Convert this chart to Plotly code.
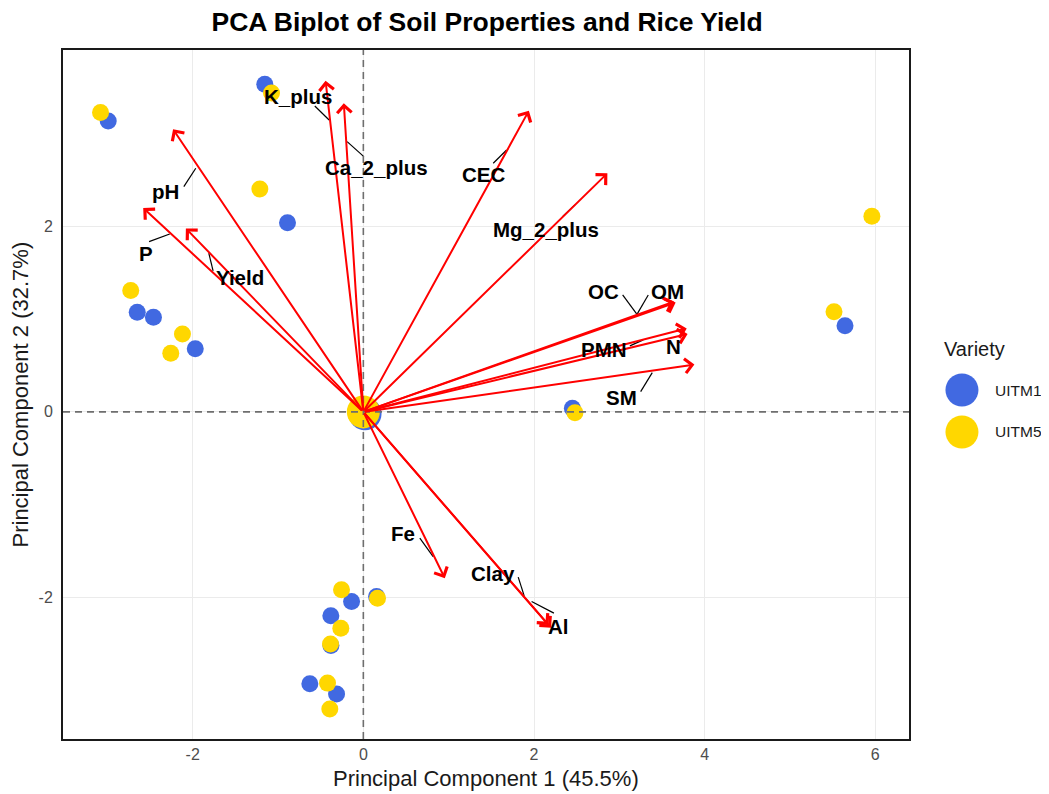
import plotly.graph_objects as go

# ---------------- data ----------------
uitm1_pc1 = [-2.99, -1.155, -0.889, -2.65, -2.46, -1.97, 5.645, 2.45, -0.138, -0.381, -0.38, -0.627, -0.314, 0.155]
uitm1_pc2 = [3.14, 3.535, 2.04, 1.075, 1.02, 0.68, 0.93, 0.04, -2.046, -2.20, -2.52, -2.934, -3.045, -1.992]
uitm5_pc1 = [-3.08, -1.076, -1.213, -2.726, -2.12, -2.257, 5.96, 5.516, 2.48, -0.256, -0.264, -0.385, -0.42, -0.393, 0.166]
uitm5_pc2 = [3.23, 3.44, 2.405, 1.31, 0.84, 0.633, 2.11, 1.08, -0.01, -1.92, -2.335, -2.506, -2.927, -3.207, -2.01]
centroid_pc1 = {"UITM1": 0.02, "UITM5": 0.0}
centroid_pc2 = {"UITM1": -0.02, "UITM5": 0.0}

variables = ["K_plus", "Ca_2_plus", "pH", "P", "Yield", "CEC", "Mg_2_plus",
             "OC", "OM", "PMN", "N", "SM", "Fe", "Clay", "Al"]
loading_pc1 = [-0.443, -0.229, -2.23, -2.58, -2.08, 1.94, 2.86,
               3.64, 3.66, 3.80, 3.79, 3.88, 0.955, 2.17, 2.20]
loading_pc2 = [3.574, 3.33, 3.05, 2.20, 1.98, 3.25, 2.575,
               1.19, 1.18, 0.84, 0.90, 0.51, -1.795, -2.30, -2.33]

# repelled label positions and their leader segments (data units)
label_x = [-0.764, 0.155, -2.315, -2.550, -1.448, 1.404, 2.136,
           2.811, 3.566, 2.819, 3.632, 3.027, 0.467, 1.515, 2.284]
label_y = [3.401, 2.635, 2.377, 1.712, 1.453, 2.557, 1.971,
           1.298, 1.298, 0.676, 0.704, 0.159, -1.316, -1.740, -2.316]
seg_x0 = [-0.569, 0.006, -2.104, -2.511, -1.761, 1.522, 2.335,
          3.039, 3.339, 3.124, None, 3.250, 0.662, 1.815, 2.233]
seg_y0 = [3.301, 2.754, 2.430, 1.837, 1.521, 2.683, 2.107,
          1.262, 1.262, 0.712, None, 0.219, -1.362, -1.783, -2.172]
seg_x1 = [-0.401, -0.190, -1.964, -2.269, -1.811, 1.679, 2.479,
          3.203, 3.210, 3.280, None, 3.386, 0.818, 1.885, 1.972]
seg_y1 = [3.150, 2.916, 2.629, 1.920, 1.712, 2.826, 2.233,
          1.057, 1.057, 0.777, None, 0.424, -1.561, -1.985, -2.046]

x_ticks = [-2, 0, 2, 4, 6]
y_ticks = [-2, 0, 2]

BLUE = "#4169E1"
GOLD = "#FFD700"
FONT = "Liberation Sans, Arial, sans-serif"

fig = go.Figure()

# sample points
fig.add_trace(go.Scatter(x=uitm1_pc1, y=uitm1_pc2, mode="markers", name="UITM1",
                         marker=dict(color=BLUE, size=17, line=dict(width=0)), showlegend=False))
fig.add_trace(go.Scatter(x=uitm5_pc1, y=uitm5_pc2, mode="markers", name="UITM5",
                         marker=dict(color=GOLD, size=17, line=dict(width=0)), showlegend=False))
# centroids
fig.add_trace(go.Scatter(x=[centroid_pc1["UITM1"]], y=[centroid_pc2["UITM1"]], mode="markers",
                         marker=dict(color=BLUE, size=33, line=dict(width=0)), showlegend=False))
fig.add_trace(go.Scatter(x=[centroid_pc1["UITM5"]], y=[centroid_pc2["UITM5"]], mode="markers",
                         marker=dict(color=GOLD, size=33, line=dict(width=0)), showlegend=False))

# leader segments
sx, sy = [], []
for a, b, c, d in zip(seg_x0, seg_y0, seg_x1, seg_y1):
    if a is None:
        continue
    sx += [a, c, None]
    sy += [b, d, None]
fig.add_trace(go.Scatter(x=sx, y=sy, mode="lines", line=dict(color="black", width=1.2),
                         hoverinfo="skip", showlegend=False))

annotations = []
# loading arrows
for v, lx, ly in zip(variables, loading_pc1, loading_pc2):
    annotations.append(dict(x=lx, y=ly, ax=0, ay=0, xref="x", yref="y", axref="x", ayref="y",
                            text="", showarrow=True, arrowhead=4, arrowsize=1.4, arrowwidth=2,
                            arrowcolor="#FF0000", standoff=0, startstandoff=0))
# labels
for v, tx, ty in zip(variables, label_x, label_y):
    annotations.append(dict(x=tx, y=ty, xref="x", yref="y", text=f"<b>{v}</b>", showarrow=False,
                            font=dict(family=FONT, size=20.5, color="black"),
                            xanchor="center", yanchor="middle"))

# axis titles
annotations.append(dict(x=0.5, y=0, xref="paper", yref="paper", yshift=-39, text="Principal Component 1 (45.5%)",
                        showarrow=False, xanchor="center", yanchor="middle",
                        font=dict(family=FONT, size=22, color="#1a1a1a")))
annotations.append(dict(x=0, y=0.5, xref="paper", yref="paper", xshift=-43, text="Principal Component 2 (32.7%)",
                        showarrow=False, xanchor="center", yanchor="middle", textangle=-90,
                        font=dict(family=FONT, size=22, color="#1a1a1a")))

# manual legend (large keys like ggplot)
annotations.append(dict(x=1.039, y=0.566, xref="paper", yref="paper", text="Variety",
                        showarrow=False, xanchor="left", yanchor="middle",
                        font=dict(family=FONT, size=20, color="#1a1a1a")))
legend_items = [("UITM1", BLUE, 0.5065), ("UITM5", GOLD, 0.4456)]
shapes = []
for name, col, yy in legend_items:
    annotations.append(dict(x=1.099, y=yy, xref="paper", yref="paper", text=name, showarrow=False,
                            xanchor="left", yanchor="middle",
                            font=dict(family=FONT, size=15.5, color="#1a1a1a")))
    shapes.append(dict(type="circle", xref="paper", yref="paper", xsizemode="pixel", ysizemode="pixel",
                       xanchor=1.0626, yanchor=yy, x0=-16.5, x1=16.5, y0=-16.5, y1=16.5,
                       fillcolor=col, line=dict(width=0)))

# dashed reference lines
shapes.append(dict(type="line", xref="x", yref="paper", x0=0, x1=0, y0=0, y1=1,
                   line=dict(color="#6e6e6e", width=1.6, dash="7px,5px"), layer="above"))
shapes.append(dict(type="line", xref="paper", yref="y", x0=0, x1=1, y0=0, y1=0,
                   line=dict(color="#6e6e6e", width=1.6, dash="7px,5px"), layer="above"))

# the page body adds an 8px margin, so the figure is sized/offset to compensate
fig.update_layout(
    width=1041, height=786,
    margin=dict(l=55, r=140, t=42, b=55, autoexpand=False),
    paper_bgcolor="white", plot_bgcolor="white",
    title=dict(text="<b>PCA Biplot of Soil Properties and Rice Yield</b>", x=0.4602, xanchor="center",
               y=0.982, yanchor="middle", font=dict(family=FONT, size=26.5, color="black")),
    annotations=annotations, shapes=shapes,
    showlegend=False,
)
fig.update_xaxes(range=[-3.52, 6.395], tickvals=x_ticks, ticktext=[str(t) for t in x_ticks],
                 showgrid=True, gridcolor="#EBEBEB", gridwidth=1, zeroline=False, automargin=False,
                 showline=True, linecolor="#1a1a1a", linewidth=2, mirror=True, ticks="",
                 tickfont=dict(family=FONT, size=16, color="#4D4D4D"))
fig.update_yaxes(range=[-3.53, 3.905], tickvals=y_ticks, ticktext=[str(t) for t in y_ticks],
                 showgrid=True, gridcolor="#EBEBEB", gridwidth=1, zeroline=False, automargin=False,
                 showline=True, linecolor="#1a1a1a", linewidth=2, mirror=True, ticks="",
                 ticklabelstandoff=5,
                 tickfont=dict(family=FONT, size=16, color="#4D4D4D"))

fig.write_html("out.html")
